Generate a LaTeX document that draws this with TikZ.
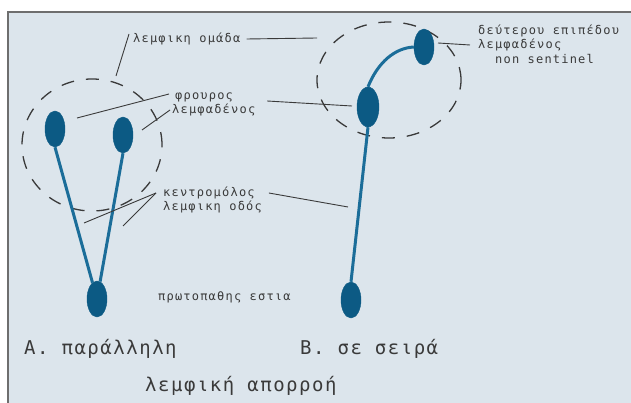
\documentclass[tikz,border=0pt]{standalone}
\usepackage{fontspec}
\newfontfamily\smallf[LetterSpace=10]{DejaVu Sans Mono}
\newfontfamily\bigf[LetterSpace=8]{DejaVu Sans Mono}
\usetikzlibrary{shapes.geometric}
\definecolor{bg}{HTML}{DCE5EC}
\definecolor{nodeblue}{HTML}{0C5A84}
\definecolor{vessel}{HTML}{1B6D99}
\definecolor{ink}{HTML}{3A3A3A}
\definecolor{frame}{HTML}{6E6E6E}
\begin{document}
\begin{tikzpicture}[x=1pt,y=-1pt,
  lnode/.style={ellipse, fill=nodeblue, draw=nodeblue, minimum width=20pt, minimum height=36pt, inner sep=0pt},
  vesselline/.style={draw=vessel, line width=3pt},
  leader/.style={draw=ink, line width=0.9pt},
  group/.style={draw=ink, line width=1.3pt, dash pattern=on 13pt off 12pt},
  smalllabel/.style={font=\smallf\fontsize{12}{14}\selectfont, text=ink, inner sep=0pt, anchor=west},
  biglabel/.style={font=\bigf\fontsize{19}{22}\selectfont, text=ink, inner sep=0pt, anchor=west}]
\useasboundingbox (0,0) rectangle (631,403);
\fill[white] (0,0) rectangle (631,403);
\fill[bg] (8,12) rectangle (631,403);
\draw[frame, line width=2pt] (8,403) -- (8,12) -- (631,12);

% lymph node groups
\draw[group] (92,145) ellipse [x radius=70pt, y radius=66pt];
\draw[group] (389,80) ellipse [x radius=72pt, y radius=58pt];

% lymph nodes
\node[lnode] (a1) at (55,129) {};
\node[lnode] (a2) at (123,135) {};
\node[lnode] (a3) at (97,299) {};
\node[lnode] (b1) at (424,47) {};
\node[lnode, minimum width=22pt, minimum height=40pt] (b2) at (368,107) {};
\node[lnode] (b3) at (351,300) {};

% lymph vessels
\draw[vesselline] (a1.south) -- (a3);
\draw[vesselline] (a2.south) -- (a3);
\draw[vesselline] (b2.south) -- (b3.north);
\draw[vesselline] (b2.north) .. controls (378,62) and (395,48) .. (b1.west);

% labels
\node[smalllabel] (omada) at (133,39) {λεμφικη ομάδα};
\node[smalllabel] (frouros) at (175,97) {φρουρος};
\node[smalllabel] (lemf1) at (172,110) {λεμφαδένος};
\node[smalllabel] (kentro) at (163,193) {κεντρομόλος};
\node[smalllabel] (odos) at (163,207) {λεμφικη οδός};
\node[smalllabel] (prot) at (158,297) {πρωτοπαθης εστια};
\node[smalllabel] (deut) at (478,31) {δεύτερου επιπέδου};
\node[smalllabel] (lemf2) at (478,45) {λεμφαδένος};
\node[smalllabel] (nonsent) at (495,59) {non sentinel};
\node[biglabel] (labA) at (24,349) {A. παράλληλη};
\node[biglabel] (labB) at (300,349) {B. σε σειρά};
\node[biglabel] (title) at (145,386) {λεμφική απορροή};

% leader coordinates
\coordinate (gA) at (116,76);
\coordinate (gB) at (317,38);
\coordinate (tA1) at (77,118);
\coordinate (tA2) at (142,130);
\coordinate (tB) at (352,106);
\coordinate (vA1) at (84,223);
\coordinate (vA2) at (123,226);
\coordinate (vB) at (348,207);
\coordinate (sB) at (438,43);

% leader lines
\draw[leader] ([xshift=-4pt,yshift=5pt]omada.west) -- (gA);
\draw[leader] ([xshift=6pt]omada.east) -- (gB);
\draw[leader] ([xshift=-6pt,yshift=3pt]frouros.west) -- (tA1);
\draw[leader] ([xshift=-2pt]lemf1.west) -- (tA2);
\draw[leader] ([xshift=34pt,yshift=-4pt]frouros.east) -- (tB);
\draw[leader] ([xshift=-7pt]kentro.west) -- (vA1);
\draw[leader] ([xshift=-7pt]kentro.west) -- (vA2);
\draw[leader] ([xshift=14pt]kentro.east) -- (vB);
\draw[leader] ([xshift=-8pt]lemf2.west) -- (sB);
\end{tikzpicture}
\end{document}
